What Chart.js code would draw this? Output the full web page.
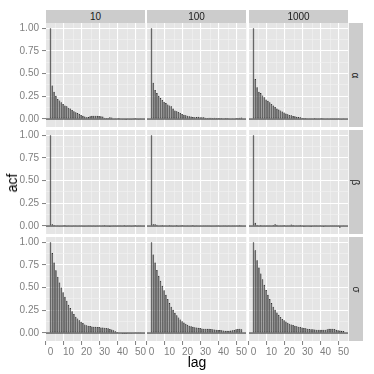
<!DOCTYPE html>
<html><head><meta charset="utf-8">
<script src="https://cdn.jsdelivr.net/npm/chart.js@4/dist/chart.umd.min.js"></script>
<style>
html,body{margin:0;padding:0;background:#fff;}
#wrap{position:relative;width:374px;height:374px;overflow:hidden;font-family:"Liberation Sans",Arial,sans-serif;}
canvas{position:absolute;left:0;top:0;}
.strip{position:absolute;background:#cccccc;color:#1a1a1a;font-size:10px;display:flex;align-items:center;justify-content:center;}
.rot{display:inline-block;transform:rotate(90deg);}
.title{position:absolute;color:#000;font-size:14px;line-height:14px;}
</style></head>
<body><div id="wrap"></div>
<script>
// ---- data ----
const lags = [0,1,2,3,4,5,6,7,8,9,10,11,12,13,14,15,16,17,18,19,20,21,22,23,24,25,26,27,28,29,30,31,32,33,34,35,36,37,38,39,40,41,42,43,44,45,46,47,48,49,50];
const columnLabels = ['10','100','1000'];
const rowLabels = ['α','β','σ'];
const xTicks = [0,10,20,30,40,50];
const yTicks = [0,0.25,0.5,0.75,1];

const alpha10 = [1.0,0.37,0.30,0.255,0.22,0.205,0.185,0.165,0.15,0.14,0.125,0.115,0.10,0.085,0.075,0.065,0.055,0.045,0.035,0.028,0.02,0.022,0.03,0.035,0.037,0.036,0.035,0.033,0.03,0.028,0.015,0.01,0.012,0.018,0.016,0.005,0.002,0.0,0.001,0.0,-0.004,-0.008,-0.01,-0.006,-0.004,-0.002,0.002,0.001,0.003,-0.002,0.004];
const alpha100 = [1.0,0.40,0.32,0.285,0.255,0.23,0.21,0.19,0.175,0.16,0.15,0.14,0.115,0.095,0.085,0.077,0.066,0.055,0.048,0.04,0.036,0.03,0.028,0.022,0.02,0.022,0.025,0.02,0.018,0.02,0.015,0.012,0.015,0.014,0.012,0.015,0.01,0.012,0.01,0.012,0.008,0.01,0.012,0.008,0.006,0.004,0.006,0.01,0.012,0.014,0.016];
const alpha1000 = [1.0,0.44,0.35,0.30,0.285,0.26,0.24,0.215,0.2,0.185,0.165,0.148,0.133,0.115,0.104,0.095,0.082,0.073,0.06,0.052,0.045,0.04,0.034,0.03,0.026,0.022,0.018,0.015,0.012,0.01,0.008,0.004,0.003,0.006,0.01,0.004,0.002,0.003,0.001,0.004,0.005,0.003,0.006,0.008,0.007,0.003,0.002,0.004,0.0,-0.004,0.002];
const beta10 = [1.0,0.02,0.012,0.005,0.008,-0.004,0.006,0.002,0.01,-0.003,0.004,0.006,-0.002,0.003,0.008,-0.005,0.002,0.006,-0.004,-0.008,0.005,0.003,0.007,-0.002,0.004,-0.003,0.002,-0.006,0.005,0.003,0.001,0.006,-0.004,-0.01,-0.006,0.004,0.008,-0.002,0.003,0.002,0.006,0.001,-0.003,0.004,0.002,-0.002,0.003,0.001,-0.004,0.002,0.003];
const beta100 = [1.0,0.02,0.018,0.015,0.006,0.004,0.01,-0.002,0.008,0.005,0.012,0.004,-0.004,0.006,0.01,-0.002,0.003,0.012,0.004,-0.005,0.002,0.006,0.004,0.01,-0.003,0.003,0.005,-0.002,0.006,0.004,0.002,0.008,0.003,-0.004,0.005,0.006,0.002,0.004,-0.003,0.005,0.007,0.003,-0.002,0.004,0.006,0.002,0.009,-0.005,0.004,0.012,0.003];
const beta1000 = [1.0,0.035,0.012,-0.004,0.01,0.006,0.004,-0.008,0.008,0.003,0.006,0.012,0.02,0.015,0.006,0.004,0.002,0.01,-0.004,0.004,0.008,0.016,0.012,0.006,0.004,0.002,0.01,-0.006,-0.01,-0.002,0.006,-0.008,-0.012,-0.006,0.004,0.002,0.005,0.003,-0.004,-0.01,0.004,0.006,-0.006,0.003,0.002,0.004,0.003,-0.002,-0.018,-0.006,0.004];
const sigma10 = [1.0,0.88,0.775,0.69,0.62,0.555,0.5,0.45,0.4,0.355,0.31,0.275,0.24,0.21,0.18,0.16,0.14,0.125,0.11,0.095,0.085,0.08,0.076,0.072,0.07,0.068,0.066,0.065,0.062,0.06,0.058,0.056,0.052,0.045,0.038,0.03,0.02,0.012,0.005,-0.005,-0.01,-0.012,-0.012,-0.008,-0.004,-0.002,0.0,0.002,0.004,0.003,0.002];
const sigma100 = [1.0,0.865,0.775,0.695,0.63,0.575,0.52,0.472,0.42,0.375,0.33,0.29,0.255,0.222,0.196,0.172,0.15,0.13,0.115,0.102,0.09,0.08,0.074,0.068,0.064,0.06,0.057,0.054,0.05,0.048,0.047,0.046,0.047,0.045,0.042,0.038,0.036,0.034,0.032,0.03,0.028,0.026,0.025,0.025,0.027,0.03,0.034,0.04,0.045,0.048,0.04];
const sigma1000 = [1.0,0.91,0.8,0.72,0.655,0.593,0.53,0.473,0.42,0.375,0.33,0.29,0.256,0.226,0.2,0.176,0.155,0.14,0.127,0.114,0.103,0.095,0.088,0.081,0.074,0.07,0.066,0.062,0.056,0.052,0.048,0.044,0.041,0.04,0.038,0.037,0.036,0.036,0.035,0.036,0.037,0.042,0.046,0.048,0.047,0.044,0.035,0.03,0.027,0.024,0.022];

const series = [[alpha10,alpha100,alpha1000],[beta10,beta100,beta1000],[sigma10,sigma100,sigma1000]];

// ---- layout ----
const COLS = [46,147,249], PW = 99;
const ROWS = [23,130,237], PH = 104;
const AXW = 40, AXH = 20;
const XMIN = -2.5, XMAX = 52.5, YMIN = -0.088, YMAX = 1.057;

const xGrid = [];
for (let i = 0; i < xTicks.length; i++) { xGrid.push(xTicks[i]); if (i < xTicks.length-1) xGrid.push((xTicks[i]+xTicks[i+1])/2); }
const yGrid = [];
for (let i = 0; i < yTicks.length; i++) { yGrid.push(yTicks[i]); if (i < yTicks.length-1) yGrid.push((yTicks[i]+yTicks[i+1])/2); }
const isMajor = (arr, v) => arr.some(t => Math.abs(t - v) < 1e-9);
const tv = ctx => (ctx && ctx.tick) ? ctx.tick.value : NaN;

const bgPlugin = {
  id: 'panelBg',
  beforeDraw(chart) {
    const a = chart.chartArea, c = chart.ctx;
    c.save(); c.fillStyle = '#e5e5e5'; c.fillRect(a.left, a.top, a.right - a.left, a.bottom - a.top); c.restore();
  }
};
const zeroLine = {
  id: 'zeroLine',
  afterDatasetsDraw(chart) {
    const a = chart.chartArea, c = chart.ctx, y = chart.scales.y.getPixelForValue(0);
    c.save(); c.strokeStyle = '#1a1a1a'; c.lineWidth = 1; c.beginPath(); c.moveTo(a.left, y); c.lineTo(a.right, y); c.stroke(); c.restore();
  }
};

const wrap = document.getElementById('wrap');
const tickFont = { family: '"Liberation Sans", Arial, sans-serif', size: 10 };

for (let r = 0; r < 3; r++) {
  for (let c = 0; c < 3; c++) {
    const left = c === 0, bottom = r === 2;
    const L = COLS[c], T = ROWS[r];
    const cv = document.createElement('canvas');
    cv.width = 374; cv.height = 374;
    wrap.appendChild(cv);
    const vals = series[r][c];
    new Chart(cv, {
      type: 'bar',
      data: { datasets: [{
        data: lags.map((l, i) => ({ x: l, y: vals[i] })),
        backgroundColor: '#5e5e5e', borderColor: '#161616', borderWidth: 0.6, borderSkipped: false,
        barPercentage: 0.9, categoryPercentage: 1
      }]},
      options: {
        responsive: false, animation: false, devicePixelRatio: 1,
        events: [],
        layout: { padding: {
          left: L - (left ? AXW : 0), top: T,
          right: 374 - L - PW, bottom: 374 - T - PH - (bottom ? AXH : 0)
        }},
        plugins: { legend: { display: false }, tooltip: { enabled: false } },
        scales: {
          x: {
            type: 'linear', min: XMIN, max: XMAX, offset: false,
            afterBuildTicks: s => { s.ticks = xGrid.map(v => ({ value: v })); },
            afterFit: s => { s.height = bottom ? AXH : 0; },
            border: { display: false },
            grid: {
              color: ctx => isMajor(xTicks, tv(ctx)) ? '#ffffff' : '#f2f2f2',
              lineWidth: ctx => isMajor(xTicks, tv(ctx)) ? 1.1 : 0.6,
              drawTicks: bottom, tickLength: 4,
              tickColor: ctx => isMajor(xTicks, tv(ctx)) ? '#7f7f7f' : 'rgba(0,0,0,0)', tickWidth: 1
            },
            ticks: {
              display: bottom, autoSkip: false, maxRotation: 0, minRotation: 0, padding: 1,
              color: '#7f7f7f', font: tickFont,
              callback: v => isMajor(xTicks, v) ? String(v) : ''
            }
          },
          y: {
            min: YMIN, max: YMAX,
            afterBuildTicks: s => { s.ticks = yGrid.map(v => ({ value: v })); },
            afterFit: s => { s.width = left ? AXW : 0; },
            border: { display: false },
            grid: {
              color: ctx => isMajor(yTicks, tv(ctx)) ? '#ffffff' : '#f2f2f2',
              lineWidth: ctx => isMajor(yTicks, tv(ctx)) ? 1.1 : 0.6,
              drawTicks: left, tickLength: 4,
              tickColor: ctx => isMajor(yTicks, tv(ctx)) ? '#7f7f7f' : 'rgba(0,0,0,0)', tickWidth: 1
            },
            ticks: {
              display: left, autoSkip: false, padding: 3,
              color: '#7f7f7f', font: tickFont,
              callback: v => isMajor(yTicks, v) ? v.toFixed(2) : ''
            }
          }
        }
      },
      plugins: [bgPlugin, zeroLine]
    });
  }
}

// strips
for (let c = 0; c < 3; c++) {
  const d = document.createElement('div');
  d.className = 'strip';
  d.style.left = COLS[c] + 'px'; d.style.top = '10px';
  d.style.width = PW + 'px'; d.style.height = (ROWS[0] - 10) + 'px';
  d.textContent = columnLabels[c];
  wrap.appendChild(d);
}
for (let r = 0; r < 3; r++) {
  const d = document.createElement('div');
  d.className = 'strip';
  d.style.left = (COLS[2] + PW + 1) + 'px'; d.style.top = ROWS[r] + 'px';
  d.style.width = '14px'; d.style.height = PH + 'px';
  const s = document.createElement('span'); s.className = 'rot'; s.textContent = rowLabels[r];
  d.appendChild(s);
  wrap.appendChild(d);
}
// axis titles
const xt = document.createElement('div');
xt.className = 'title'; xt.textContent = 'lag';
xt.style.left = '0px'; xt.style.width = (2 * 197) + 'px'; xt.style.textAlign = 'center'; xt.style.top = '355px';
wrap.appendChild(xt);
const yt = document.createElement('div');
yt.className = 'title'; yt.textContent = 'acf';
yt.style.left = '12px'; yt.style.top = '183px';
yt.style.transform = 'translate(-50%,-50%) rotate(-90deg)';
yt.style.whiteSpace = 'nowrap';
wrap.appendChild(yt);
</script>
</body></html>
